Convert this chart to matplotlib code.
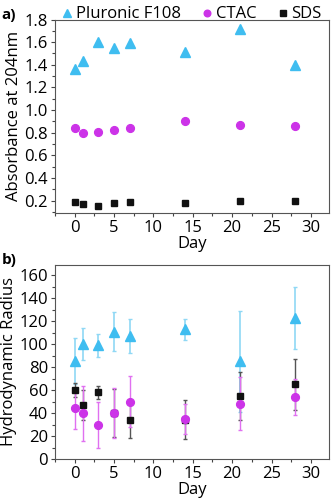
import matplotlib
matplotlib.use("Agg")
import matplotlib.pyplot as plt
from matplotlib.ticker import MultipleLocator

plt.rcParams['font.family'] = ['Open Sans', 'DejaVu Sans']

days = [0, 1, 3, 5, 7, 14, 21, 28]

# Panel a: absorbance at 204 nm
abs_pluronic = [1.36, 1.43, 1.60, 1.55, 1.59, 1.51, 1.72, 1.40]
abs_ctac = [0.84, 0.80, 0.81, 0.82, 0.84, 0.90, 0.87, 0.86]
abs_sds = [0.19, 0.17, 0.15, 0.18, 0.19, 0.18, 0.20, 0.20]

# Panel b: hydrodynamic radius with error
rh_pluronic = [85, 100, 99, 111, 107, 113, 85, 123]
err_pluronic = [20, 14, 10, 17, 15, 9, 44, 27]
rh_ctac = [44, 40, 30, 40, 50, 35, 48, 54]
err_ctac = [18, 24, 20, 22, 22, 13, 23, 16]
rh_sds = [60, 47, 58, 40, 34, 34, 55, 65]
err_sds = [6, 13, 6, 21, 16, 17, 21, 22]

labels = ['Pluronic F108', 'CTAC', 'SDS']
c_blue = '#3fbdf0'
c_blue_err = '#8fd8f5'
c_mag = '#cc33e8'
c_mag_err = '#e070f0'
c_blk = '#111111'
c_blk_err = '#555555'

fig = plt.figure(figsize=(3.34, 5.03), dpi=100)
ax1 = fig.add_axes([0.1647, 0.5765, 0.985 - 0.1647, 0.9612 - 0.5765])
ax2 = fig.add_axes([0.1647, 0.0875, 0.985 - 0.1647, 0.4732 - 0.0875])

fs = 12
ms_tri, ms_circ, ms_sq = 7.2, 5.6, 5.0

ax1.plot(days, abs_pluronic, linestyle='none', marker='^', ms=ms_tri, color=c_blue, label=labels[0])
ax1.plot(days, abs_ctac, linestyle='none', marker='o', ms=ms_circ, color=c_mag, label=labels[1])
ax1.plot(days, abs_sds, linestyle='none', marker='s', ms=ms_sq, color=c_blk, label=labels[2])
ax1.set_ylim(0.09, 1.8)
ax1.yaxis.set_major_locator(MultipleLocator(0.2))
ax1.yaxis.set_minor_locator(MultipleLocator(0.1))
ax1.set_ylabel('Absorbance at 204nm', fontsize=fs, labelpad=2)

ax2.errorbar(days, rh_pluronic, yerr=err_pluronic, linestyle='none', marker='^', ms=ms_tri,
             color=c_blue, ecolor=c_blue_err, elinewidth=1.2, capsize=1.5, capthick=1)
ax2.errorbar(days, rh_sds, yerr=err_sds, linestyle='none', marker='s', ms=ms_sq,
             color=c_blk, ecolor=c_blk_err, elinewidth=1.0, capsize=1.5, capthick=1)
ax2.errorbar(days, rh_ctac, yerr=err_ctac, linestyle='none', marker='o', ms=ms_circ,
             color=c_mag, ecolor=c_mag_err, elinewidth=1.0, capsize=1.5, capthick=1)
ax2.set_ylim(0, 169)
ax2.yaxis.set_major_locator(MultipleLocator(20))
ax2.yaxis.set_minor_locator(MultipleLocator(10))
ax2.set_ylabel('Hydrodynamic Radius', fontsize=fs, labelpad=2)

for ax in (ax1, ax2):
    ax.set_xlim(-2.5, 32.3)
    ax.xaxis.set_major_locator(MultipleLocator(5))
    ax.xaxis.set_minor_locator(MultipleLocator(2.5))
    ax.set_xlabel('Day', fontsize=fs, labelpad=0)
    ax.tick_params(axis='both', which='major', direction='out', length=3, width=0.8,
                   labelsize=fs, pad=2, color='#444444')
    ax.tick_params(axis='both', which='minor', direction='out', length=2, width=0.8,
                   color='#444444')
    for sp in ax.spines.values():
        sp.set_color('#555555')
        sp.set_linewidth(0.8)

ax1.legend(loc='lower center', bbox_to_anchor=(0.5, 0.985), ncol=3, frameon=False,
           fontsize=fs, handlelength=0.6, handletextpad=0.2, columnspacing=1.3,
           borderaxespad=0, borderpad=0, markerscale=0.85)

fig.text(0.005, 0.985, 'a)', fontsize=11, fontweight='bold', va='top', ha='left')
fig.text(0.005, 0.498, 'b)', fontsize=11, fontweight='bold', va='top', ha='left')

fig.savefig('out.png', dpi=100)
